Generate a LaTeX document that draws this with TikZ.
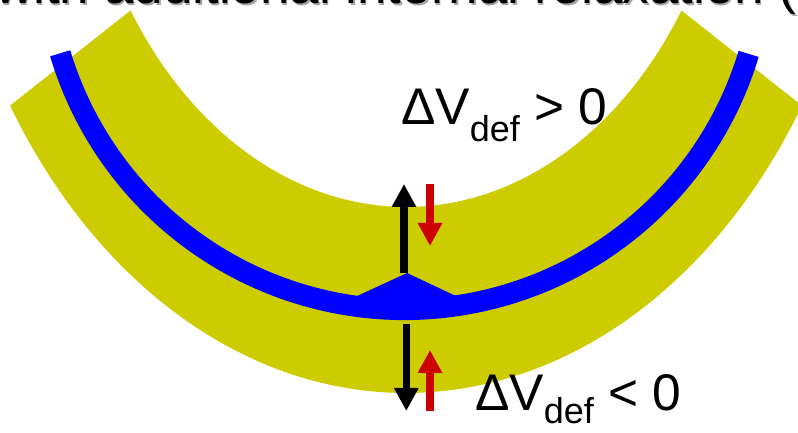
\documentclass[tikz,border=0pt]{standalone}
\usepackage{fontspec}
\setmainfont{Liberation Sans}
\usetikzlibrary{arrows.meta,calc}
\definecolor{bandyellow}{RGB}{204,204,0}
\definecolor{arrred}{RGB}{204,0,0}
\begin{document}
\begin{tikzpicture}[x=1pt,y=1pt,
  lbl/.style={font=\fontsize{51.5}{60}\selectfont, inner sep=0pt, anchor=base west},
  ttl/.style={font=\fontsize{53}{60}\selectfont, inner sep=0pt, anchor=base west},
  bigarrow/.style={line width=7.3pt, -{Triangle[length=23pt,width=23pt]}},
]
\useasboundingbox (0,0) rectangle (798,433);
% yellow band (elliptic block arc)
\coordinate (C) at (406,663);
\fill[bandyellow] ($(C)+(212.6:470pt and 623pt)$)
  arc[start angle=212.6,end angle=327.4,x radius=470pt,y radius=623pt]
  -- ($(C)+(326.6:330pt and 437pt)$)
  arc[start angle=326.6,end angle=213.4,x radius=330pt,y radius=437pt]
  -- cycle;
% blue layer (circular arc)
\coordinate (B) at (404.5,483);
\fill[blue] ($(B)+(196.7:370pt)$)
  arc[start angle=196.7,end angle=343.2,radius=370pt]
  -- ($(B)+(343.2:349pt)$)
  arc[start angle=343.2,end angle=196.7,radius=349pt]
  -- cycle;
% blue bump
\fill[blue] (355,136) -- (407,160) -- (458,136) -- (407,120) -- cycle;
% arrows
\coordinate (bu0) at (404,160); \coordinate (bu1) at (404,249);
\coordinate (bd0) at (406.3,109); \coordinate (bd1) at (406.3,22);
\coordinate (ru0) at (430,249); \coordinate (ru1) at (430,187);
\coordinate (rd0) at (430,22); \coordinate (rd1) at (430,83);
\draw[bigarrow,black] (bu0) -- (bu1);
\draw[bigarrow,black] (bd0) -- (bd1);
\draw[bigarrow,arrred] (ru0) -- (ru1);
\draw[bigarrow,arrred] (rd0) -- (rd1);
% labels
\node[lbl] (lup) at (401,308) {ΔV\raisebox{-16.5pt}{\fontsize{36}{40}\selectfont def} > 0};
\node[lbl] (ldown) at (475,22) {ΔV\raisebox{-13pt}{\fontsize{36}{40}\selectfont def} < 0};
% clipped title
\begin{scope}
\clip (0,0) rectangle (798,433);
\node[ttl,black!35] (tshadow) at (-3.5,427.5) {with additional internal relaxation (};
\node[ttl] (title) at (-5,429) {with additional internal relaxation (};
\end{scope}
\end{tikzpicture}
\end{document}
